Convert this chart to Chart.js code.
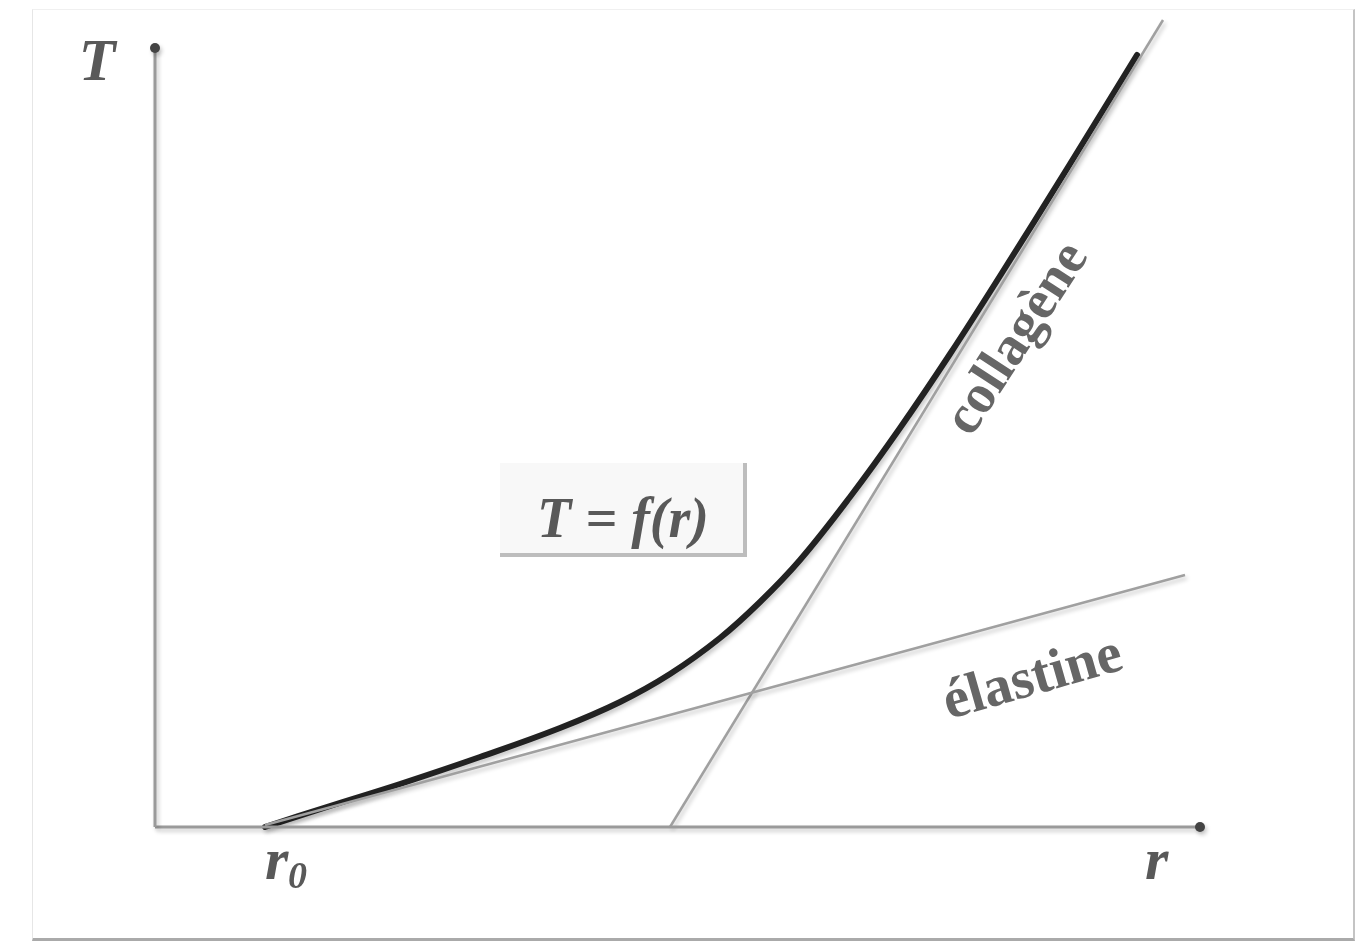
<!DOCTYPE html>
<html>
<head>
<meta charset="utf-8">
<script src="https://cdn.jsdelivr.net/npm/chart.js@4"></script>
<style>
  body { margin: 0; background: #fff; }
  #wrap { position: relative; width: 1367px; height: 947px; }
  #frame {
    position: absolute; left: 32px; top: 9px; width: 1320px; height: 928px;
    border-left: 1px solid #e6e6e6; border-top: 1px solid #f0f0f0;
    border-right: 2px solid #c4c4c4; border-bottom: 3px solid #aaa;
  }
  canvas { position: absolute; left: 0; top: 0; }
</style>
</head>
<body>
<div id="wrap">
  <div id="frame"></div>
  <canvas id="chart" width="1367" height="947"></canvas>
</div>
<script>
// tension curve T = f(r)
const curveR = [1.10, 1.75, 2.45, 3.25, 4.05, 4.65, 5.15, 5.65, 6.05, 6.45, 6.95, 7.45, 7.95, 8.45, 9.15, 9.82];
const curveT = [0.00, 0.21, 0.43, 0.70, 0.99, 1.25, 1.53, 1.89, 2.25, 2.67, 3.30, 3.99, 4.73, 5.51, 6.63, 7.72];

// straight asymptotes
const elastineR = [1.10, 10.30];
const elastineT = [0.02, 2.52];
const collageneR = [5.15, 10.08];
const collageneT = [0.00, 8.07];

// axes (arrow ends)
const axisTR = [0, 0];
const axisTT = [0, 7.79];
const axisRR = [0, 10.45];
const axisRT = [0, 0];

const pts = (xs, ys) => xs.map((x, i) => ({ x: x, y: ys[i] }));

const shadowPlugin = {
  id: 'shadow',
  beforeDatasetDraw(chart, args) {
    const ctx = chart.ctx;
    ctx.save();
    ctx.shadowColor = 'rgba(0,0,0,0.22)';
    ctx.shadowBlur = 4;
    ctx.shadowOffsetX = 2;
    ctx.shadowOffsetY = 3;
  },
  afterDatasetDraw(chart) {
    chart.ctx.restore();
  }
};

const labelPlugin = {
  id: 'labels',
  afterDraw(chart) {
    const ctx = chart.ctx;
    const xs = chart.scales.x, ys = chart.scales.y;
    const px = v => xs.getPixelForValue(v);
    const py = v => ys.getPixelForValue(v);
    ctx.save();
    ctx.fillStyle = '#595959';
    ctx.textBaseline = 'alphabetic';

    // axis names
    ctx.font = 'italic bold 60px "Liberation Serif"';
    ctx.textAlign = 'center';
    ctx.fillText('T', px(-0.58), py(7.47));
    ctx.textAlign = 'left';
    ctx.fillText('r', px(9.90), py(-0.52));
    ctx.fillText('r', px(1.10), py(-0.52));
    ctx.font = 'italic bold 38px "Liberation Serif"';
    ctx.fillText('0', px(1.33), py(-0.61));

    // boxed formula
    const bx0 = px(3.45), bx1 = px(5.90), by0 = py(3.64), by1 = py(2.72);
    ctx.fillStyle = '#f8f8f8';
    ctx.fillRect(bx0, by0, bx1 - bx0, by1 - by0);
    ctx.strokeStyle = '#bdbdbd';
    ctx.lineWidth = 4;
    ctx.beginPath();
    ctx.moveTo(bx0, by1); ctx.lineTo(bx1, by1); ctx.lineTo(bx1, by0);
    ctx.stroke();
    ctx.fillStyle = '#595959';
    ctx.font = 'italic bold 56px "Liberation Serif"';
    ctx.textAlign = 'center';
    ctx.fillText('T = f(r)', px(4.68), py(2.90));

    // line names
    ctx.font = 'bold 55px "Liberation Serif"';
    ctx.fillStyle = '#666';
    ctx.save();
    ctx.translate(px(8.75), py(4.80));
    ctx.rotate(-57 * Math.PI / 180);
    ctx.fillText('collagène', 0, 0);
    ctx.restore();
    ctx.save();
    ctx.translate(px(8.82), py(1.33));
    ctx.rotate(-16 * Math.PI / 180);
    ctx.font = 'bold 57px "Liberation Serif"';
    ctx.fillText('élastine', 0, 0);
    ctx.restore();
    ctx.restore();
  }
};

new Chart(document.getElementById('chart'), {
  type: 'scatter',
  data: {
    datasets: [
      {
        data: pts(axisTR, axisTT), showLine: true, borderColor: '#9a9a9a', borderWidth: 3,
        pointRadius: [0, 5], pointBackgroundColor: '#444', pointBorderWidth: 0
      },
      {
        data: pts(axisRR, axisRT), showLine: true, borderColor: '#9a9a9a', borderWidth: 3,
        pointRadius: [0, 5], pointBackgroundColor: '#444', pointBorderWidth: 0
      },
      {
        data: pts(elastineR, elastineT), showLine: true, borderColor: '#a0a0a0', borderWidth: 2.5,
        pointRadius: 0
      },
      {
        data: pts(collageneR, collageneT), showLine: true, borderColor: '#a0a0a0', borderWidth: 2.5,
        pointRadius: 0
      },
      {
        data: pts(curveR, curveT), showLine: true, borderColor: '#222', borderWidth: 6,
        borderCapStyle: 'round', tension: 0.4, pointRadius: 0
      }
    ]
  },
  options: {
    responsive: false,
    animation: false,
    clip: false,
    layout: { padding: { left: 155, right: 12, top: 10, bottom: 120 } },
    scales: {
      x: { type: 'linear', min: 0, max: 12, display: false },
      y: { type: 'linear', min: 0, max: 8.17, display: false }
    },
    plugins: { legend: { display: false }, tooltip: { enabled: false } }
  },
  plugins: [shadowPlugin, labelPlugin]
});
</script>
</body>
</html>
